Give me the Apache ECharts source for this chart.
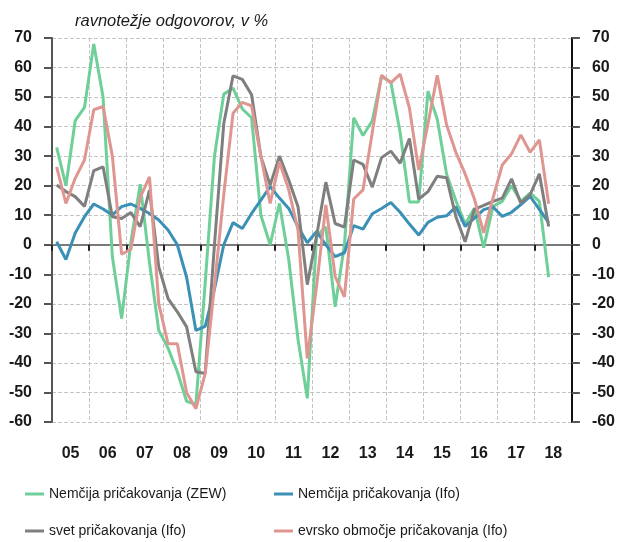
<!DOCTYPE html>
<html>
<head>
<meta charset="utf-8">
<script src="https://cdn.jsdelivr.net/npm/echarts@6/dist/echarts.min.js"></script>
<style>
  html, body { margin: 0; padding: 0; background: #fff; }
  #chart { width: 618px; height: 542px; }
</style>
</head>
<body>
<div id="chart"></div>
<script>
// leta in četrtletja (2005 Q1 - 2018 Q4)
var years = ['05', '06', '07', '08', '09', '10', '11', '12', '13', '14', '15', '16', '17', '18']
var quarters = []
years.forEach(function (y) {
  for (var q = 1; q <= 4; q++) quarters.push(y + 'Q' + q)
})

// ravnotežje odgovorov, v % (do 2018 Q2)
var zew = [33, 20, 42, 46.5, 68, 50, -4, -25, 1, 20.5, -6, -29, -35, -43, -53, -54,
  -13, 30, 51, 53, 46, 43, 10, 0, 14, -5, -32, -52, 3, 6, -21, 0,
  43, 37, 42, 57, 55, 38, 14.5, 14.5, 52, 42.5, 24, 15, 7, 12.4, -1, 13,
  14.7, 20, 14.7, 17.5, 14.7, -11]
var ifoDe = [1, -5, 4, 9.5, 13.8, 12.1, 10.1, 12.9, 13.8, 12.3, 10.6, 8.4, 5, 0, -11, -29,
  -27.6, -15, 0, 7.5, 5.5, 10.6, 15.1, 19.7, 15.8, 12.3, 6.1, 0.7, 4.5, 0, -4, -2.7,
  6.5, 5.3, 10.5, 12.3, 14.3, 11, 7, 3.3, 7.6, 9.3, 9.8, 12.8, 6.2, 9, 11.9, 12.8,
  9.6, 11, 13.6, 16.4, 12, 7.5]
var ifoWorld = [20.2, 18, 16.3, 13, 25.1, 26.4, 9.5, 8.9, 10.9, 6.1, 18.5, -7.5, -18.2, -22.7, -27.8, -43,
  -43.6, 0, 41, 57.2, 56, 50.8, 29.8, 20.2, 30, 21.9, 12.9, -13.5, 3, 21.2, 7.2, 6,
  28.7, 27.2, 19.5, 29.5, 31.7, 27.6, 36, 15.5, 18, 23.2, 22.7, 9.6, 1, 12, 13.3, 14.7,
  15.8, 22.3, 14.1, 17, 24, 6.2]
var ifoEa = [26.4, 14, 22.5, 28.7, 45.7, 46.8, 30.1, -3.2, -1.5, 16, 23, -20, -33.5, -33.5, -50, -55.5,
  -43.6, -14, 17, 44.5, 48.2, 47, 30, 14, 28, 18.6, 5, -38.5, -14, 13.5, -10.8, -17.6,
  15.5, 18.6, 38, 57.4, 54.8, 57.8, 46.3, 25.3, 41, 57.4, 40.6, 31.3, 24, 15.5, 4, 15.8,
  27, 30.8, 37.2, 31.3, 35.5, 13.9]

var names = ['Nemčija pričakovanja (ZEW)', 'Nemčija pričakovanja (Ifo)', 'svet pričakovanja (Ifo)', 'evrsko območje pričakovanja (Ifo)']
var colors = ['#6fcf98', '#3b90b6', '#7f7f7f', '#df9690']

var font = '"Liberation Sans Narrow", "Liberation Sans", sans-serif'

var chart = echarts.init(document.getElementById('chart'))

function legendFor(i, left, top) {
  return {
    data: [names[i]],
    left: left,
    top: top,
    icon: 'rect',
    itemWidth: 19,
    itemHeight: 3,
    selectedMode: false,
    textStyle: { fontFamily: font, fontSize: 14, color: '#1a1a1a' }
  }
}

function yAxisFor(pos) {
  return {
    type: 'value',
    position: pos,
    min: -60,
    max: 70,
    interval: 10,
    axisLine: { show: true, lineStyle: { color: pos === 'left' ? '#555' : '#111', width: 2 } },
    axisTick: { show: true, length: 8, lineStyle: { color: '#555', width: 2 } },
    axisLabel: { margin: 20, fontFamily: font, fontSize: 16, fontWeight: 'bold', color: '#1a1a1a' },
    splitLine: {
      show: pos === 'left',
      lineStyle: { type: 'dashed', color: '#c4c4c4', width: 1 }
    }
  }
}

function lineSeries(i, data) {
  return {
    name: names[i],
    type: 'line',
    xAxisIndex: 0,
    yAxisIndex: 0,
    data: data,
    showSymbol: false,
    symbol: 'none',
    lineStyle: { width: 3, color: colors[i] },
    itemStyle: { color: colors[i] }
  }
}

var option = {
  animation: false,
  title: {
    text: 'ravnotežje odgovorov, v %',
    left: 70,
    top: 8,
    textStyle: { fontFamily: font, fontSize: 16.5, fontStyle: 'italic', fontWeight: 'normal', color: '#1a1a1a' }
  },
  legend: [
    legendFor(0, 20, 482),
    legendFor(1, 269, 482),
    legendFor(2, 20, 519),
    legendFor(3, 269, 519)
  ],
  grid: { left: 52, right: 46, top: 38, bottom: 120 },
  xAxis: [
    // četrtletja - za podatke
    { type: 'category', data: quarters, boundaryGap: true, show: false },
    // leta - oznake in navpična mreža
    {
      type: 'category',
      data: years,
      position: 'bottom',
      boundaryGap: true,
      axisLine: { show: false, onZero: false },
      axisTick: { show: false },
      axisLabel: { margin: 24, fontFamily: font, fontSize: 16, fontWeight: 'bold', color: '#1a1a1a', interval: 0 },
      splitLine: { show: true, interval: 0, lineStyle: { type: 'dashed', color: '#c4c4c4', width: 1 } }
    },
    // ničelna črta s kljukicami
    {
      type: 'category',
      data: years,
      position: 'bottom',
      boundaryGap: true,
      axisLine: { show: true, onZero: true, lineStyle: { color: '#7a7a7a', width: 2 } },
      axisTick: { show: true, length: 6, lineStyle: { color: '#222', width: 2 } },
      axisLabel: { show: false },
      splitLine: { show: false }
    }
  ],
  yAxis: [yAxisFor('left'), yAxisFor('right')],
  series: [
    lineSeries(0, zew),
    lineSeries(1, ifoDe),
    lineSeries(2, ifoWorld),
    lineSeries(3, ifoEa)
  ]
}

chart.setOption(option)
</script>
</body>
</html>
